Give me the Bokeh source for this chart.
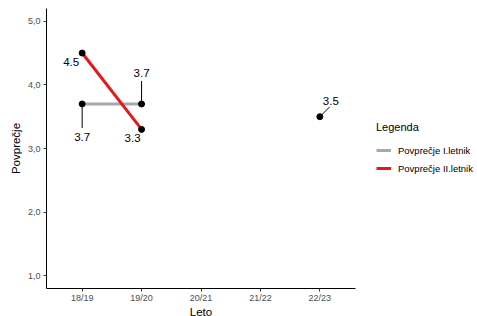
import math
from bokeh.plotting import figure
from bokeh.models import (ColumnDataSource, FactorRange, Range1d, FixedTicker,
                          Legend, LegendItem)
from bokeh.core.properties import value
from bokeh.embed import file_html
from bokeh.resources import INLINE

# ---- data ----
years = ["18/19", "19/20", "20/21", "21/22", "22/23"]
series1_name = "Povprečje I.letnik"
series2_name = "Povprečje II.letnik"
series1 = [3.7, 3.7, float("nan"), float("nan"), 3.5]
series2 = [4.5, 3.3, float("nan"), float("nan"), float("nan")]
y_ticks = [1, 2, 3, 4, 5]
y_tick_labels = ["1,0", "2,0", "3,0", "4,0", "5,0"]
x_title = "Leto"
y_title = "Povprečje"
legend_title = "Legenda"

# ---- label placement (screen px offsets, style only) ----
lab_dx1 = [0, 0, 11]
lab_dy1 = [33, -31, -16]
lab_dx2 = [-11, -9]
lab_dy2 = [9, 9]
lead_ang1 = [-90, 90, 45]
lead_len1 = [24, 23, 14]

FONT = "Liberation Sans"
GREY = "#A9A9A9"
RED = "#E31A1C"

p = figure(frame_width=309, frame_height=280, output_backend="svg", toolbar_location=None,
           x_range=FactorRange(*years, range_padding=0.1, range_padding_units="absolute"),
           y_range=Range1d(0.8, 5.2),
           min_border_left=46, min_border_right=122, min_border_top=8, min_border_bottom=0)
p.outline_line_color = None
p.xgrid.visible = False
p.ygrid.visible = False

for ax in (p.xaxis[0], p.yaxis[0]):
    ax.axis_line_color = "black"
    ax.axis_line_width = 1
    ax.major_tick_line_color = "#333333"
    ax.major_tick_out = 3
    ax.major_tick_in = 0
    ax.minor_tick_line_color = None
    ax.major_label_text_font = FONT
    ax.major_label_text_font_size = "9px"
    ax.major_label_text_color = "#4D4D4D"
    ax.axis_label_text_font = FONT
    ax.axis_label_text_font_size = "11.5px"
    ax.axis_label_text_font_style = "normal"
    ax.axis_label_text_color = "black"

p.xaxis.axis_label = x_title
p.xaxis.major_label_standoff = 1
p.xaxis.axis_label_standoff = 0
p.yaxis.axis_label = y_title
p.yaxis.major_label_standoff = 3
p.yaxis.axis_label_standoff = 3
p.yaxis.ticker = FixedTicker(ticks=y_ticks)
p.yaxis.major_label_overrides = {t: l for t, l in zip(y_ticks, y_tick_labels)}

src1 = ColumnDataSource(dict(x=years, y=series1))
src2 = ColumnDataSource(dict(x=years, y=series2))

r1 = p.line("x", "y", source=src1, line_color=GREY, line_width=3)
r2 = p.line("x", "y", source=src2, line_color=RED, line_width=3)

def pts(vals, dx, dy):
    xs, ys, txt = [], [], []
    for x, v in zip(years, vals):
        if not math.isnan(v):
            xs.append(x); ys.append(v); txt.append(f"{v:.1f}")
    return dict(x=xs, y=ys, t=txt, dx=dx, dy=dy)

d1 = pts(series1, lab_dx1, lab_dy1)
d2 = pts(series2, lab_dx2, lab_dy2)
d1["ang"] = [math.radians(a) for a in lead_ang1]
d1["len"] = lead_len1
ps1 = ColumnDataSource(d1)
ps2 = ColumnDataSource(d2)

p.ray(x="x", y="y", length="len", angle="ang", length_units="screen",
      source=ps1, line_color="black", line_width=1)

p.scatter("x", "y", source=ps1, size=6, color="black")
p.scatter("x", "y", source=ps2, size=6, color="black")

for s in (ps1, ps2):
    p.text(x="x", y="y", text="t", x_offset="dx", y_offset="dy", source=s,
           text_font=value(FONT), text_font_size="11.5px", text_color="black",
           text_align="center", text_baseline="middle")

legend = Legend(items=[LegendItem(label=series1_name, renderers=[r1]),
                       LegendItem(label=series2_name, renderers=[r2])],
                title=legend_title, location=(21, 114),
                border_line_color=None, background_fill_alpha=0,
                padding=0, margin=0, spacing=6,
                glyph_width=15, glyph_height=12, label_height=12,
                label_standoff=7,
                label_text_font=FONT, label_text_font_size="9.5px",
                label_text_color="black",
                title_text_font=FONT, title_text_font_size="11px",
                title_text_font_style="normal", title_text_color="black",
                title_standoff=11)
p.add_layout(legend, "right")

open("out.html", "w").write(file_html(p, INLINE))
